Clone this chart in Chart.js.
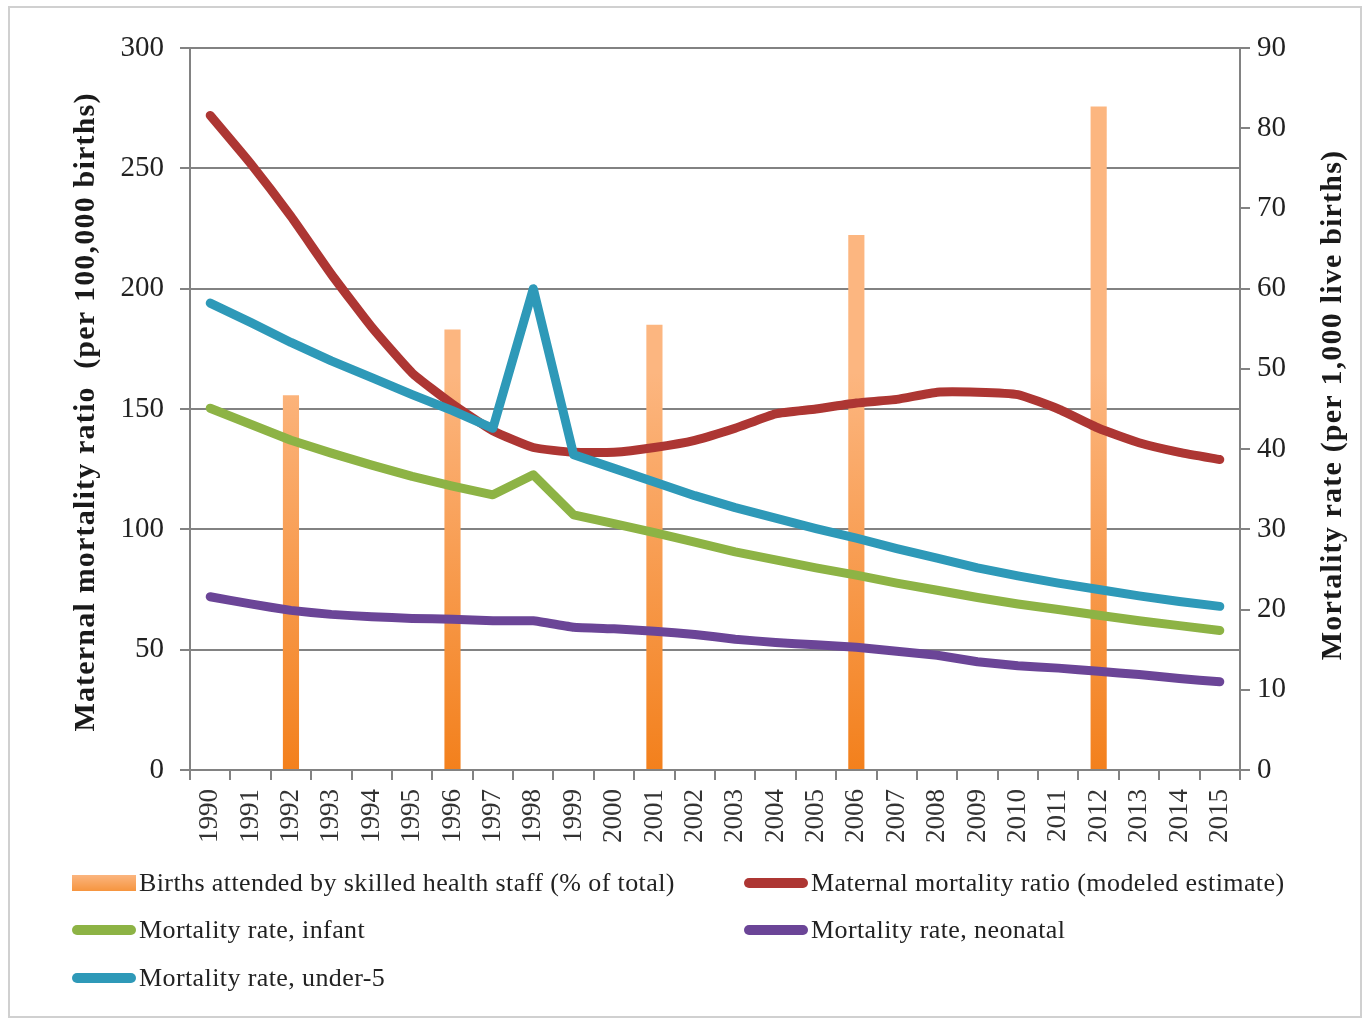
<!DOCTYPE html>
<html>
<head>
<meta charset="utf-8">
<script src="https://cdn.jsdelivr.net/npm/chart.js@4.4.0/dist/chart.umd.min.js"></script>
<style>
body { margin: 0; background: #fff; }
#wrap { position: relative; width: 1370px; height: 1024px; }
#frame { position: absolute; left: 8px; top: 6px; width: 1350px; height: 1008px; border: 2px solid #d0d0d0; }
canvas { position: absolute; left: 0; top: 0; }
#legend { position: absolute; left: 0; top: 0; font-family: "Liberation Serif", serif; font-size: 26px; letter-spacing: 0.4px; color: #222; }
.item { position: absolute; display: flex; align-items: center; white-space: nowrap; height: 30px; }
.swatch { width: 64px; height: 10px; border-radius: 5px; margin-right: 3px; }
.swatch.bar { height: 16px; border-radius: 0; }
</style>
</head>
<body>
<div id="wrap">
  <div id="frame"></div>
  <canvas id="chart" width="1370" height="1024"></canvas>
  <div id="legend"></div>
</div>
<script>
const years = ["1990", "1991", "1992", "1993", "1994", "1995", "1996", "1997", "1998", "1999",
    "2000", "2001", "2002", "2003", "2004", "2005", "2006", "2007", "2008", "2009",
    "2010", "2011", "2012", "2013", "2014", "2015"];

// % of total, right axis
const birthsAttended = [null, null, 46.7, null, null, null, 54.9, null, null, null,
    null, 55.5, null, null, null, null, 66.7, null, null, null,
    null, null, 82.7, null, null, null];

// per 100,000 births, left axis
const maternal = [272, 252, 230, 206, 184, 165, 152, 141, 134, 132,
    132, 134, 137, 142, 148, 150, 152.5, 154, 157, 157,
    156, 150, 142, 136, 132, 129];

// per 1,000 live births, right axis
const infant = [45.1, 43.1, 41.1, 39.5, 38.0, 36.6, 35.4, 34.3, 36.8, 31.8,
    30.7, 29.6, 28.4, 27.2, 26.2, 25.2, 24.3, 23.3, 22.4, 21.5,
    20.7, 20.0, 19.3, 18.6, 18.0, 17.4];
const neonatal = [21.6, 20.7, 19.9, 19.4, 19.1, 18.9, 18.8, 18.6, 18.6, 17.8,
    17.6, 17.3, 16.9, 16.3, 15.9, 15.6, 15.3, 14.8, 14.3, 13.5,
    13.0, 12.7, 12.3, 11.9, 11.4, 11.0];
const under5 = [58.2, 55.8, 53.3, 51.0, 48.9, 46.8, 44.8, 42.6, 60.0, 39.3,
    37.6, 35.9, 34.2, 32.7, 31.4, 30.1, 28.9, 27.6, 26.4, 25.2,
    24.2, 23.3, 22.5, 21.7, 21.0, 20.4];

const leftTitle = "Maternal mortality ratio  (per 100,000 births)";
const rightTitle = "Mortality rate (per 1,000 live births)";

const legendItems = [
    { label: "Births attended by skilled health staff (% of total)", color: "#f8a25c", bar: true, x: 72, y: 868 },
    { label: "Maternal mortality ratio (modeled estimate)", color: "#ad3633", x: 744, y: 868 },
    { label: "Mortality rate, infant", color: "#8db345", x: 72, y: 915 },
    { label: "Mortality rate, neonatal", color: "#6b4597", x: 744, y: 915 },
    { label: "Mortality rate, under-5", color: "#2e99b8", x: 72, y: 963 }
];

const gridColor = "#828282";
const serif = "'Liberation Serif', serif";

function barFill(ctx) {
    const area = ctx.chart.chartArea;
    if (!area) return "#f7963f";
    const g = ctx.chart.ctx.createLinearGradient(0, area.bottom, 0, area.bottom - (area.bottom - area.top) * 0.55);
    g.addColorStop(0, "#f3801c");
    g.addColorStop(1, "#fcb680");
    return g;
}

const sideTitles = {
    id: "sideTitles",
    afterDraw(chart) {
        const { ctx, chartArea } = chart;
        const mid = (chartArea.top + chartArea.bottom) / 2;
        ctx.save();
        ctx.font = "bold 30px " + serif;
        ctx.letterSpacing = "1.2px";
        ctx.fillStyle = "#1a1a1a";
        ctx.textAlign = "center";
        ctx.textBaseline = "middle";
        [[86, leftTitle, 3], [1333, rightTitle, -4]].forEach(([x, t, dy]) => {
            ctx.save();
            ctx.translate(x, mid + dy);
            ctx.rotate(-Math.PI / 2);
            ctx.fillText(t, 0, 0);
            ctx.restore();
        });
        ctx.restore();
    }
};

function lineSet(label, data, color, axis, order, tension) {
    return {
        type: "line",
        label: label,
        data: data,
        yAxisID: axis,
        borderColor: color,
        backgroundColor: color,
        borderWidth: 9,
        pointRadius: 0,
        tension: tension,
        borderCapStyle: "round",
        borderJoinStyle: "round",
        order: order
    };
}

new Chart(document.getElementById("chart"), {
    data: {
        labels: years,
        datasets: [
            {
                type: "bar",
                label: legendItems[0].label,
                data: birthsAttended,
                yAxisID: "yR",
                backgroundColor: barFill,
                barPercentage: 0.4,
                categoryPercentage: 1,
                order: 5
            },
            lineSet(legendItems[1].label, maternal, legendItems[1].color, "yL", 2, 0.15),
            lineSet(legendItems[2].label, infant, legendItems[2].color, "yR", 3, 0),
            lineSet(legendItems[3].label, neonatal, legendItems[3].color, "yR", 4, 0.1),
            lineSet(legendItems[4].label, under5, legendItems[4].color, "yR", 1, 0)
        ]
    },
    options: {
        responsive: false,
        animation: false,
        devicePixelRatio: 1,
        layout: { padding: { top: 48, bottom: 164, left: 0, right: 0 } },
        plugins: { legend: { display: false }, tooltip: { enabled: false } },
        scales: {
            x: {
                offset: true,
                grid: { offset: true, drawOnChartArea: false, tickLength: 10, color: gridColor, lineWidth: 2 },
                border: { color: gridColor, width: 2 },
                ticks: { minRotation: 90, maxRotation: 90, autoSkip: false, padding: 9, color: "#333", font: { family: serif, size: 27 } },
                afterFit(s) { s.height = 90; }
            },
            yL: {
                position: "left",
                min: 0, max: 300,
                ticks: { stepSize: 50, padding: 16, color: "#222", font: { family: serif, size: 29 } },
                grid: { color: gridColor, lineWidth: 2, tickLength: 10 },
                border: { color: gridColor, width: 2 },
                afterFit(s) { s.width = 190; }
            },
            yR: {
                position: "right",
                min: 0, max: 90,
                ticks: { stepSize: 10, padding: 7, color: "#222", font: { family: serif, size: 29 } },
                grid: { drawOnChartArea: false, color: gridColor, lineWidth: 2, tickLength: 10 },
                border: { color: gridColor, width: 2 },
                afterFit(s) { s.width = 130; }
            }
        }
    },
    plugins: [sideTitles]
});

const legend = document.getElementById("legend");
legendItems.forEach(it => {
    const d = document.createElement("div");
    d.className = "item";
    d.style.left = it.x + "px";
    d.style.top = it.y + "px";
    const sw = document.createElement("span");
    sw.className = it.bar ? "swatch bar" : "swatch";
    sw.style.background = it.bar ? "linear-gradient(#fbb57f, #f6953f)" : it.color;
    d.appendChild(sw);
    d.appendChild(document.createTextNode(it.label));
    legend.appendChild(d);
});
</script>
</body>
</html>
